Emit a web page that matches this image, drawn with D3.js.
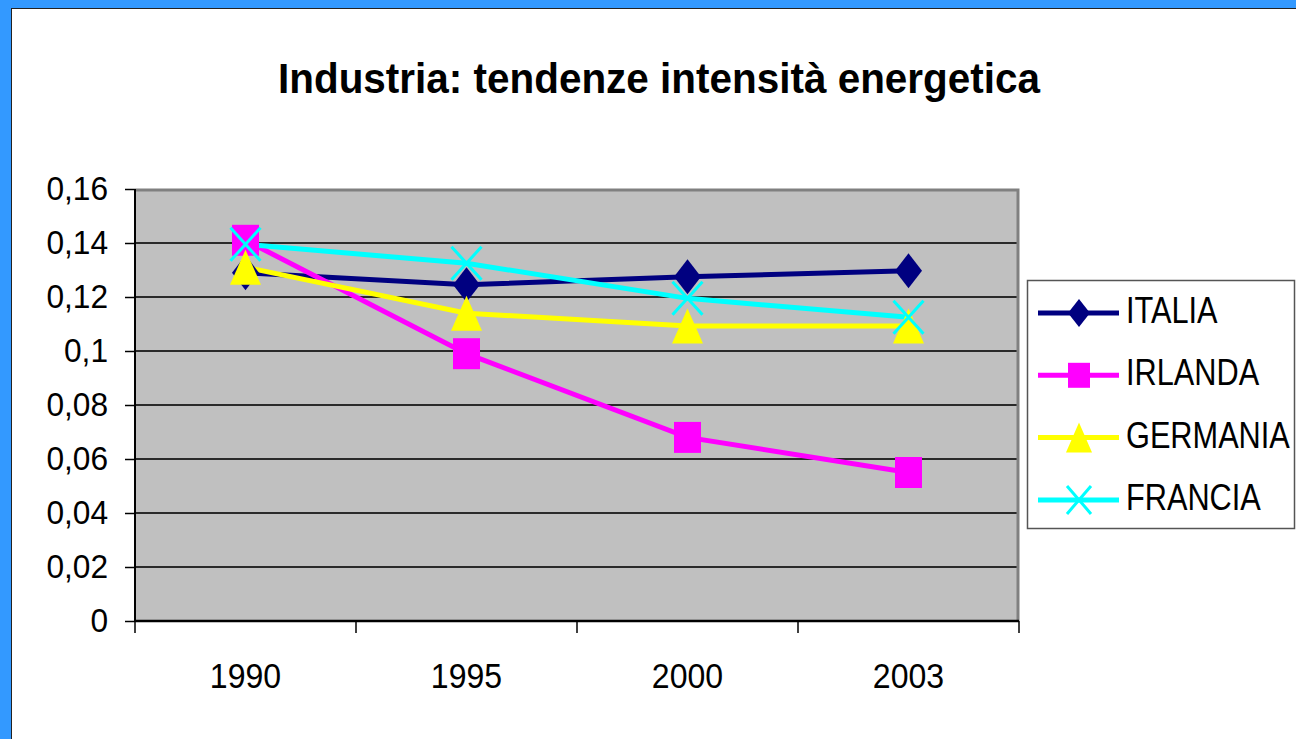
<!DOCTYPE html>
<html>
<head>
<meta charset="utf-8">
<script src="https://cdn.jsdelivr.net/npm/d3@7"></script>
<style>
body { margin: 0; background: #3399ff; overflow: hidden; }
text { font-family: "Liberation Sans", Arial, sans-serif; fill: #000; }
</style>
</head>
<body>
<script>
var width = 1296,
    height = 739;

// data
var years = ["1990", "1995", "2000", "2003"];
var italia   = [0.129, 0.1245, 0.1275, 0.1297];
var irlanda  = [0.141, 0.099, 0.068, 0.055];
var germania = [0.131, 0.114, 0.1093, 0.1093];
var francia  = [0.1395, 0.1325, 0.1195, 0.1125];
var yTicks = [0, 0.02, 0.04, 0.06, 0.08, 0.1, 0.12, 0.14, 0.16];
var seriesNames = ["ITALIA", "IRLANDA", "GERMANIA", "FRANCIA"];
var title = "Industria: tendenze intensità energetica";

var series = [
  {name: seriesNames[0], values: italia,   color: "#000080", marker: "diamond"},
  {name: seriesNames[1], values: irlanda,  color: "#ff00ff", marker: "square"},
  {name: seriesNames[2], values: germania, color: "#ffff00", marker: "triangle"},
  {name: seriesNames[3], values: francia,  color: "#00ffff", marker: "cross"}
];

var plot = {left: 135, top: 189, right: 1019, bottom: 621};

var x = d3.scaleBand()
    .domain(years)
    .range([plot.left, plot.right]);

var y = d3.scaleLinear()
    .domain([0, 0.16])
    .range([plot.bottom, plot.top]);

var it = d3.formatLocale({decimal: ",", thousands: ".", grouping: [3], currency: ["", "€"]});
var fmt = it.format("~g");

// marker shapes, w x h (Excel markers come out a bit taller than wide here)
var markerSize = {
  diamond: [27, 35], square: [27, 31], triangle: [31, 35], cross: [30, 33]
};
var legendMarkerSize = {
  diamond: [22, 28], square: [22, 25], triangle: [26, 30], cross: [24, 28]
};

function markerPath(type, w, h) {
  var a = w / 2, b = h / 2;
  if (type == "diamond") return "M0," + (-b) + "L" + a + ",0L0," + b + "L" + (-a) + ",0Z";
  if (type == "square") return "M" + (-a) + "," + (-b) + "h" + w + "v" + h + "h" + (-w) + "Z";
  if (type == "triangle") return "M0," + (-b) + "L" + a + "," + b + "L" + (-a) + "," + b + "Z";
  return "M" + (-a) + "," + (-b) + "L" + a + "," + b + "M" + a + "," + (-b) + "L" + (-a) + "," + b;
}

function drawMarker(sel, s, sizes) {
  var sz = sizes[s.marker];
  sel.attr("d", markerPath(s.marker, sz[0], sz[1]));
  if (s.marker == "cross") {
    sel.attr("fill", "none").attr("stroke", s.color).attr("stroke-width", 3);
  } else {
    sel.attr("fill", s.color).attr("stroke", "none");
  }
}

var svg = d3.select("body").append("svg")
    .attr("width", width)
    .attr("height", height)
    .style("display", "block");

// white chart panel inside the blue frame
svg.append("rect")
    .attr("x", 11.5)
    .attr("y", 8.5)
    .attr("width", width)
    .attr("height", height)
    .attr("fill", "#fff")
    .attr("stroke", "#222")
    .attr("stroke-width", 1);

svg.append("text")
    .attr("x", 278)
    .attr("y", 93)
    .attr("textLength", 762)
    .attr("lengthAdjust", "spacingAndGlyphs")
    .style("font-size", "42px")
    .style("font-weight", "bold")
    .text(title);

// plot area
svg.append("rect")
    .attr("x", plot.left)
    .attr("y", plot.top)
    .attr("width", plot.right - plot.left)
    .attr("height", plot.bottom - plot.top)
    .attr("fill", "#c0c0c0");

svg.append("g")
    .selectAll("line")
    .data(yTicks.filter(function(d) { return d > 0 && d < 0.16; }))
  .enter().append("line")
    .attr("x1", plot.left)
    .attr("x2", plot.right)
    .attr("y1", function(d) { return y(d); })
    .attr("y2", function(d) { return y(d); })
    .attr("stroke", "#2a2a2a")
    .attr("stroke-width", 2);

// top and right border, grey
svg.append("path")
    .attr("d", "M" + plot.left + "," + (plot.top + 1) + "H" + (plot.right - 1) + "V" + plot.bottom)
    .attr("fill", "none")
    .attr("stroke", "#808080")
    .attr("stroke-width", 3);

// y axis
var yAxis = svg.append("g")
    .attr("transform", "translate(" + plot.left + ",0)")
    .call(d3.axisLeft(y).tickValues(yTicks).tickSize(10).tickFormat(fmt));
yAxis.select(".domain").remove();
yAxis.selectAll("line").attr("stroke", "#000").attr("stroke-width", 1.5);
yAxis.selectAll("text")
    .attr("x", -27 / 0.96)
    .attr("fill", "#000")
    .attr("transform", "scale(0.96,1)")
    .style("font-size", "33px")
    .style("font-family", "'Liberation Sans', Arial, sans-serif");

svg.append("line")
    .attr("x1", plot.left).attr("x2", plot.left)
    .attr("y1", plot.top).attr("y2", plot.bottom)
    .attr("stroke", "#000").attr("stroke-width", 2);

// x axis: ticks on category boundaries, labels centred
var bounds = years.map(function(d) { return x(d); }).concat([plot.right]);
svg.append("g")
    .selectAll("line")
    .data(bounds)
  .enter().append("line")
    .attr("x1", function(d) { return d; })
    .attr("x2", function(d) { return d; })
    .attr("y1", plot.bottom)
    .attr("y2", plot.bottom + 12)
    .attr("stroke", "#000")
    .attr("stroke-width", 1.5);

var xAxis = svg.append("g")
    .attr("transform", "translate(0," + plot.bottom + ")")
    .call(d3.axisBottom(x).tickSize(0));
xAxis.select(".domain").remove();
xAxis.selectAll("text")
    .attr("y", 67)
    .attr("dy", 0)
    .attr("fill", "#000")
    .attr("transform", "scale(0.89,1)")
    .style("font-size", "36px")
    .style("font-family", "'Liberation Sans', Arial, sans-serif");

svg.append("line")
    .attr("x1", plot.left).attr("x2", plot.right)
    .attr("y1", plot.bottom).attr("y2", plot.bottom)
    .attr("stroke", "#000").attr("stroke-width", 2.5);

// series
var line = d3.line()
    .x(function(d, i) { return x(years[i]) + x.bandwidth() / 2; })
    .y(function(d) { return y(d); });

series.forEach(function(s) {
  svg.append("path")
      .datum(s.values)
      .attr("d", line)
      .attr("fill", "none")
      .attr("stroke", s.color)
      .attr("stroke-width", 5);
});

series.forEach(function(s) {
  svg.append("g").selectAll("path")
      .data(s.values)
    .enter().append("path")
      .attr("transform", function(d, i) {
        return "translate(" + (x(years[i]) + x.bandwidth() / 2) + "," + y(d) + ")";
      })
      .each(function() { drawMarker(d3.select(this), s, markerSize); });
});

// legend
var legend = svg.append("g");
legend.append("rect")
    .attr("x", 1027.5)
    .attr("y", 280.5)
    .attr("width", 267)
    .attr("height", 248)
    .attr("fill", "#fff")
    .attr("stroke", "#555")
    .attr("stroke-width", 1.5);

var item = legend.selectAll(".item")
    .data(series)
  .enter().append("g")
    .attr("class", "item")
    .attr("transform", function(d, i) { return "translate(0," + (313 + i * 62.3) + ")"; });

item.append("line")
    .attr("x1", 1038)
    .attr("x2", 1119)
    .attr("stroke", function(d) { return d.color; })
    .attr("stroke-width", 5);

item.append("path")
    .attr("transform", "translate(1079,0)")
    .each(function(d) { drawMarker(d3.select(this), d, legendMarkerSize); });

item.append("text")
    .attr("transform", "translate(1126,10) scale(0.83,1)")
    .style("font-size", "37px")
    .text(function(d) { return d.name; });
</script>
</body>
</html>
